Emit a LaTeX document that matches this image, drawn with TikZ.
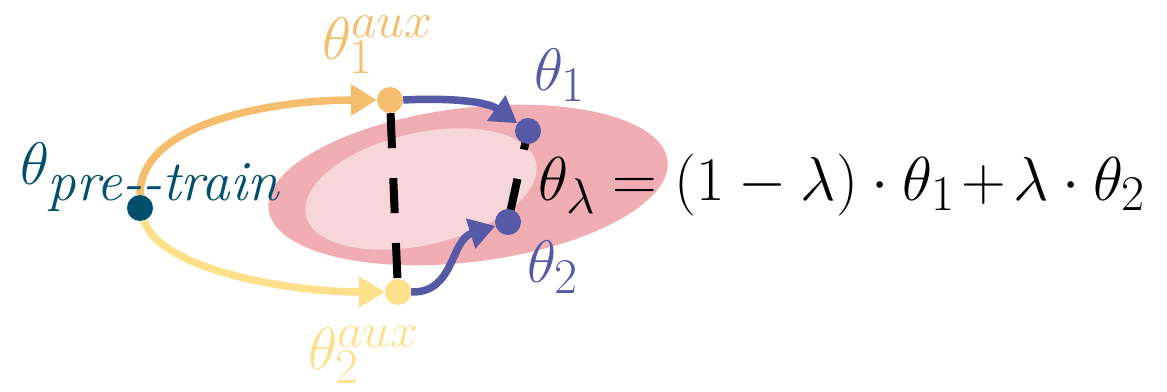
\RequirePackage{fix-cm}
\documentclass[tikz,border=0pt]{standalone}
\usepackage{amsmath}
\usetikzlibrary{arrows.meta}
\DeclareMathSizes{60}{60}{50}{40}
\DeclareMathSizes{62}{62}{50}{40}
\definecolor{teal0}{HTML}{014F6C}
\definecolor{orng}{HTML}{F5BE6E}
\definecolor{ylw}{HTML}{FEE08B}
\definecolor{purp}{HTML}{5659A5}
\definecolor{pinkout}{HTML}{F0AEB4}
\definecolor{pinkin}{HTML}{F7D6DA}
\pgfdeclarelayer{bg}
\pgfsetlayers{bg,main}
\begin{document}
\begin{tikzpicture}[x=1pt,y=-1pt,
  dot/.style={circle,fill=#1,inner sep=0pt,minimum size=26pt},
  lbl/.style={inner sep=0pt,anchor=base west,font=\fontsize{60}{72}\selectfont,text=#1},
  conn/.style={line width=7.5pt,draw=#1,-{Triangle[length=26pt,width=30pt]}},
  dashln/.style={line width=8pt,draw=black,dash pattern=on 35pt off 30pt}]
\useasboundingbox (0,0) rectangle (1167,391);
% dots
\node[dot=teal0] (pre) at (140,208) {};
\node[dot=orng] (a1) at (390,100) {};
\node[dot=ylw] (a2) at (398,292) {};
\node[dot=purp] (t1) at (528,131) {};
\node[dot=purp] (t2) at (508,222) {};
\begin{pgfonlayer}{bg}
\fill[pinkout, rotate around={7:(468,185)}] (468,185) ellipse [x radius=201pt, y radius=77pt];
\fill[pinkin, rotate around={13:(421,189)}] (421,189) ellipse [x radius=118pt, y radius=56pt];
\draw[dashln] (a1) -- (a2);
\draw[dashln, dash phase=16pt] (t1.center) -- (t2.center);
\draw[conn=orng] (pre.north) .. controls (140,120) and (280,100) .. (a1.west);
\draw[conn=ylw] (pre) .. controls (160,270) and (290,292) .. (a2.west);
\draw[conn=purp] (a1.east) .. controls (440,98) and (485,100) .. (t1);
\draw[conn=purp] (a2.east) .. controls (455,293) and (450,240) .. (t2);
\end{pgfonlayer}
% labels
\node[lbl=teal0] (lpre) at (20,184) {$\theta_{\hbox{\fontsize{57}{60}\selectfont\itshape pre-{}-train}}$};
\node[lbl=orng] (la1) at (322,59) {$\theta_1^{aux}$};
\node[lbl=ylw] (la2) at (308,369) {$\theta_2^{aux}$};
\node[lbl=purp] (lt1) at (534,90) {$\theta_1$};
\node[lbl=purp] (lt2) at (527,282) {$\theta_2$};
\node[lbl=black, font=\fontsize{62}{74}\selectfont] (eq) at (538,200) {$\theta_\lambda = (1-\lambda)\cdot\theta_1\mskip2mu{+}\mskip2mu\lambda\cdot\theta_2$};
\end{tikzpicture}
\end{document}
